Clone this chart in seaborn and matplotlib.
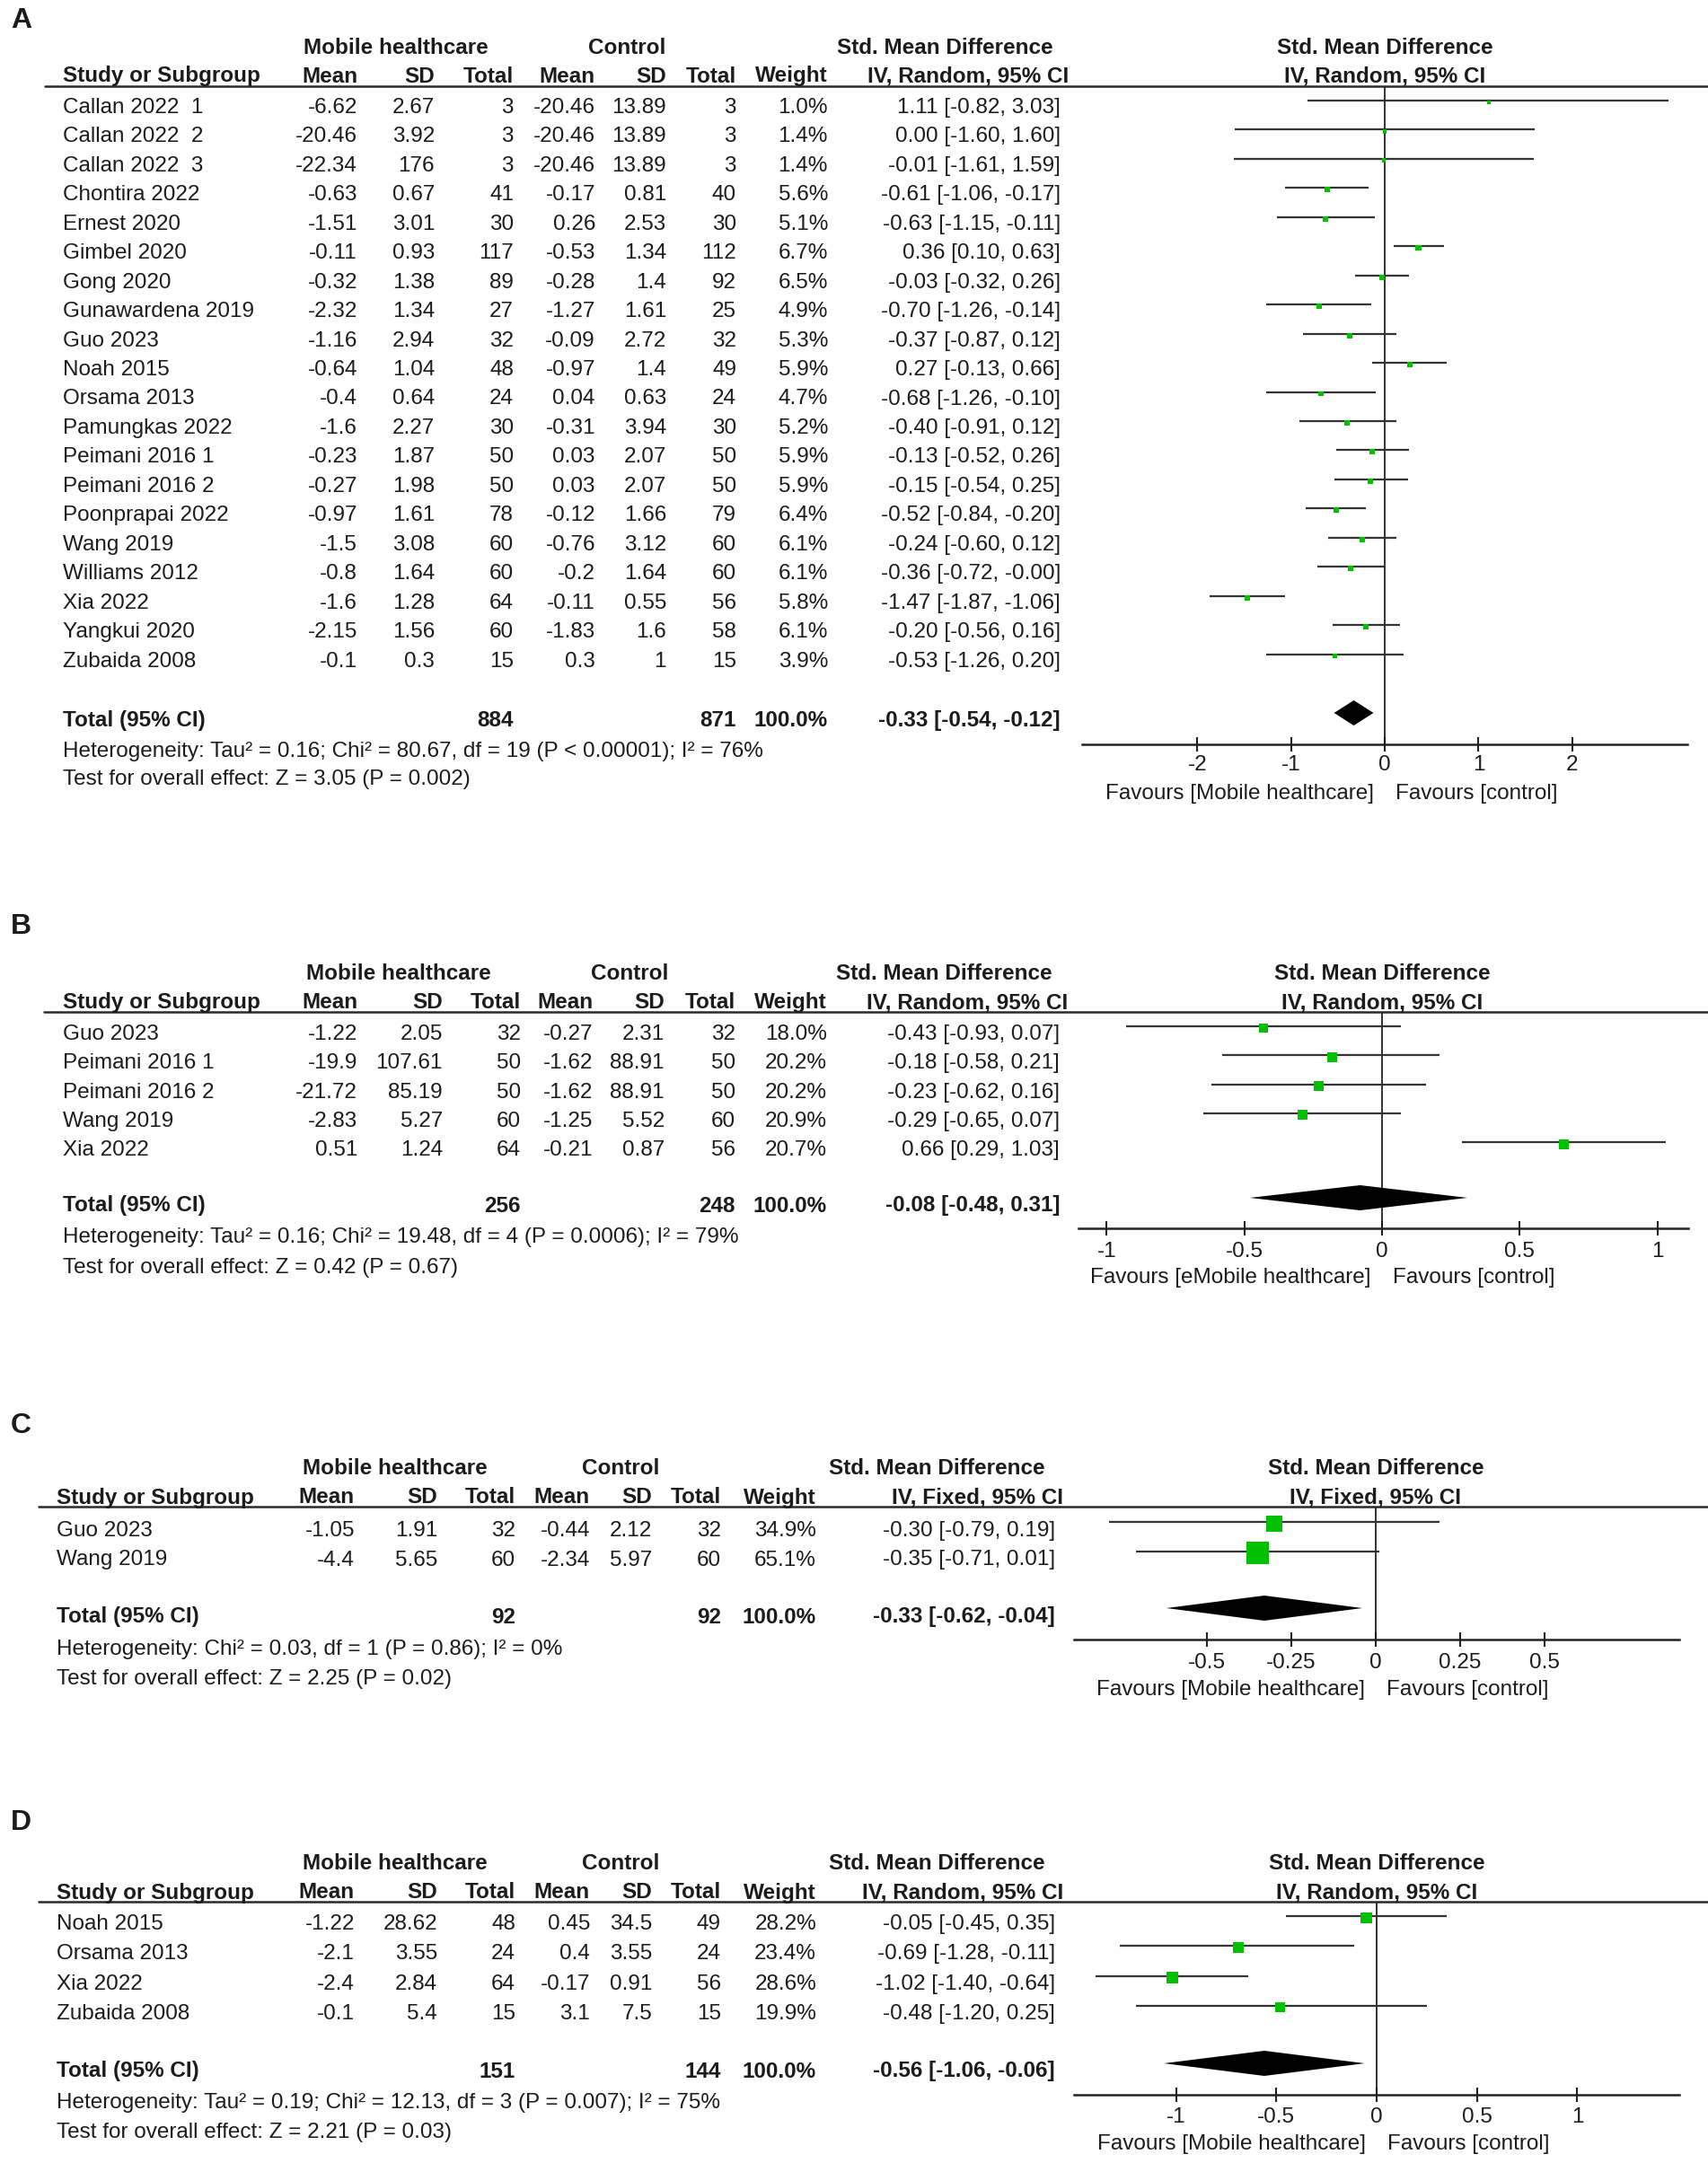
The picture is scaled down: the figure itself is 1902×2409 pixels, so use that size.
import numpy as np
import pandas as pd
import seaborn as sns
import matplotlib.pyplot as plt
from matplotlib.lines import Line2D

# ---------------- panel A : all studies ----------------
a_studies = ["Callan 2022  1", "Callan 2022  2", "Callan 2022  3", "Chontira 2022", "Ernest 2020",
             "Gimbel 2020", "Gong 2020", "Gunawardena 2019", "Guo 2023", "Noah 2015", "Orsama 2013",
             "Pamungkas 2022", "Peimani 2016 1", "Peimani 2016 2", "Poonprapai 2022", "Wang 2019",
             "Williams 2012", "Xia 2022", "Yangkui 2020", "Zubaida 2008"]
a_mean_e = [-6.62, -20.46, -22.34, -0.63, -1.51, -0.11, -0.32, -2.32, -1.16, -0.64, -0.4, -1.6,
            -0.23, -0.27, -0.97, -1.5, -0.8, -1.6, -2.15, -0.1]
a_sd_e = [2.67, 3.92, 176, 0.67, 3.01, 0.93, 1.38, 1.34, 2.94, 1.04, 0.64, 2.27, 1.87, 1.98, 1.61,
          3.08, 1.64, 1.28, 1.56, 0.3]
a_n_e = [3, 3, 3, 41, 30, 117, 89, 27, 32, 48, 24, 30, 50, 50, 78, 60, 60, 64, 60, 15]
a_mean_c = [-20.46, -20.46, -20.46, -0.17, 0.26, -0.53, -0.28, -1.27, -0.09, -0.97, 0.04, -0.31,
            0.03, 0.03, -0.12, -0.76, -0.2, -0.11, -1.83, 0.3]
a_sd_c = [13.89, 13.89, 13.89, 0.81, 2.53, 1.34, 1.4, 1.61, 2.72, 1.4, 0.63, 3.94, 2.07, 2.07, 1.66,
          3.12, 1.64, 0.55, 1.6, 1]
a_n_c = [3, 3, 3, 40, 30, 112, 92, 25, 32, 49, 24, 30, 50, 50, 79, 60, 60, 56, 58, 15]
a_weight = [1.0, 1.4, 1.4, 5.6, 5.1, 6.7, 6.5, 4.9, 5.3, 5.9, 4.7, 5.2, 5.9, 5.9, 6.4, 6.1, 6.1, 5.8, 6.1, 3.9]
a_smd = [1.11, 0.00, -0.01, -0.61, -0.63, 0.36, -0.03, -0.70, -0.37, 0.27, -0.68, -0.40, -0.13, -0.15,
         -0.52, -0.24, -0.36, -1.47, -0.20, -0.53]
a_lo = [-0.82, -1.60, -1.61, -1.06, -1.15, 0.10, -0.32, -1.26, -0.87, -0.13, -1.26, -0.91, -0.52, -0.54,
        -0.84, -0.60, -0.72, -1.87, -0.56, -1.26]
a_hi = [3.03, 1.60, 1.59, -0.17, -0.11, 0.63, 0.26, -0.14, 0.12, 0.66, -0.10, 0.12, 0.26, 0.25,
        -0.20, 0.12, -0.00, -1.06, 0.16, 0.20]
a_totals = [884, 871]
a_pooled = [-0.33, -0.54, -0.12]
a_het = "Heterogeneity: Tau² = 0.16; Chi² = 80.67, df = 19 (P < 0.00001); I² = 76%"
a_test = "Test for overall effect: Z = 3.05 (P = 0.002)"
a_ticks = [-2, -1, 0, 1, 2]

# ---------------- panel B ----------------
b_studies = ["Guo 2023", "Peimani 2016 1", "Peimani 2016 2", "Wang 2019", "Xia 2022"]
b_mean_e = [-1.22, -19.9, -21.72, -2.83, 0.51]
b_sd_e = [2.05, 107.61, 85.19, 5.27, 1.24]
b_n_e = [32, 50, 50, 60, 64]
b_mean_c = [-0.27, -1.62, -1.62, -1.25, -0.21]
b_sd_c = [2.31, 88.91, 88.91, 5.52, 0.87]
b_n_c = [32, 50, 50, 60, 56]
b_weight = [18.0, 20.2, 20.2, 20.9, 20.7]
b_smd = [-0.43, -0.18, -0.23, -0.29, 0.66]
b_lo = [-0.93, -0.58, -0.62, -0.65, 0.29]
b_hi = [0.07, 0.21, 0.16, 0.07, 1.03]
b_totals = [256, 248]
b_pooled = [-0.08, -0.48, 0.31]
b_het = "Heterogeneity: Tau² = 0.16; Chi² = 19.48, df = 4 (P = 0.0006); I² = 79%"
b_test = "Test for overall effect: Z = 0.42 (P = 0.67)"
b_ticks = [-1, -0.5, 0, 0.5, 1]

# ---------------- panel C ----------------
c_studies = ["Guo 2023", "Wang 2019"]
c_mean_e = [-1.05, -4.4]
c_sd_e = [1.91, 5.65]
c_n_e = [32, 60]
c_mean_c = [-0.44, -2.34]
c_sd_c = [2.12, 5.97]
c_n_c = [32, 60]
c_weight = [34.9, 65.1]
c_smd = [-0.30, -0.35]
c_lo = [-0.79, -0.71]
c_hi = [0.19, 0.01]
c_totals = [92, 92]
c_pooled = [-0.33, -0.62, -0.04]
c_het = "Heterogeneity: Chi² = 0.03, df = 1 (P = 0.86); I² = 0%"
c_test = "Test for overall effect: Z = 2.25 (P = 0.02)"
c_ticks = [-0.5, -0.25, 0, 0.25, 0.5]

# ---------------- panel D ----------------
d_studies = ["Noah 2015", "Orsama 2013", "Xia 2022", "Zubaida 2008"]
d_mean_e = [-1.22, -2.1, -2.4, -0.1]
d_sd_e = [28.62, 3.55, 2.84, 5.4]
d_n_e = [48, 24, 64, 15]
d_mean_c = [0.45, 0.4, -0.17, 3.1]
d_sd_c = [34.5, 3.55, 0.91, 7.5]
d_n_c = [49, 24, 56, 15]
d_weight = [28.2, 23.4, 28.6, 19.9]
d_smd = [-0.05, -0.69, -1.02, -0.48]
d_lo = [-0.45, -1.28, -1.40, -1.20]
d_hi = [0.35, -0.11, -0.64, 0.25]
d_totals = [151, 144]
d_pooled = [-0.56, -1.06, -0.06]
d_het = "Heterogeneity: Tau² = 0.19; Chi² = 12.13, df = 3 (P = 0.007); I² = 75%"
d_test = "Test for overall effect: Z = 2.21 (P = 0.03)"
d_ticks = [-1, -0.5, 0, 0.5, 1]

W, H = 1902, 2409
sns.set_style("white")
plt.rcParams['font.family'] = ['Liberation Sans', 'DejaVu Sans']
FS = 17.5
INK = '#1c1c1c'
GREEN = '#00c000'

fig = plt.figure(figsize=(W / 100, H / 100), dpi=100)


def fx(px):
    return px / W


def fy(py):
    return 1 - py / H


def txt(x, y, s, ha='left', bold=False, size=FS):
    fig.text(fx(x), fy(y), s, ha=ha, va='center', fontsize=size,
             fontweight='bold' if bold else 'normal', color=INK)


def num(v):
    return '{:g}'.format(v)


def ci(m, lo, hi):
    return '{:.2f} [{:.2f}, {:.2f}]'.format(m, lo, hi)


def draw_panel(label, df, totals, pooled, het, test, method, ticks, fav_left, L):
    txt(12, L['label'], label, bold=True, size=23)
    txt(L['mobile'], L['hdr1'], 'Mobile healthcare', ha='center', bold=True)
    txt(L['control'], L['hdr1'], 'Control', ha='center', bold=True)
    txt(L['smd'], L['hdr1'], 'Std. Mean Difference', ha='center', bold=True)
    txt(L['x0'], L['hdr1'], 'Std. Mean Difference', ha='center', bold=True)

    cols = L['cols']
    txt(L['left'], L['hdr2'], 'Study or Subgroup', bold=True)
    for name, x in zip(['Mean', 'SD', 'Total', 'Mean', 'SD', 'Total', 'Weight'], cols[:7]):
        txt(x, L['hdr2'], name, ha='right', bold=True)
    txt(cols[7] + 9, L['hdr2'], method, ha='right', bold=True)
    txt(L['x0'], L['hdr2'], method, ha='center', bold=True)
    fig.add_artist(Line2D([fx(L['hl0']), 1], [fy(L['line'])] * 2, color='#2a2a2a', lw=1.8))

    # table rows
    for i, r in enumerate(df.itertuples()):
        y = L['text0'] + i * L['dy']
        txt(L['left'], y, r.study)
        vals = [num(r.mean_e), num(r.sd_e), num(r.n_e), num(r.mean_c), num(r.sd_c), num(r.n_c),
                '{:.1f}%'.format(r.weight), ci(r.smd, r.lo, r.hi)]
        for v, x in zip(vals, cols):
            txt(x, y, v, ha='right')

    yt = L['total']
    txt(L['left'], yt, 'Total (95% CI)', bold=True)
    txt(cols[2], yt, str(totals[0]), ha='right', bold=True)
    txt(cols[5], yt, str(totals[1]), ha='right', bold=True)
    txt(cols[6], yt, '100.0%', ha='right', bold=True)
    txt(cols[7], yt, ci(*pooled), ha='right', bold=True)
    txt(L['left'], L['het'], het)
    txt(L['left'], L['test'], test)

    # forest plot
    x_a, x_b = L['ax']
    ax = fig.add_axes([fx(x_a), fy(L['axis']), (x_b - x_a) / W, (L['axis'] - L['line']) / H])
    ax.set_facecolor('none')
    plot_df = df.assign(ypos=[L['text0'] + L['off'] + i * L['dy'] for i in range(len(df))])
    ax.hlines(plot_df['ypos'], plot_df['lo'], plot_df['hi'], color='#333333', lw=1.6, zorder=2)
    sns.scatterplot(data=plot_df, x='smd', y=plot_df['ypos'] + 2, size='weight',
                    sizes=(L['smin'], L['smax']), size_norm=(0, plot_df['weight'].max()),
                    marker='s', color=GREEN, edgecolor='none', linewidth=0, legend=False,
                    ax=ax, zorder=3)
    yd = L['total'] + L['off']
    hh = 14
    m, lo, hi = pooled
    ax.fill([lo, m, hi, m], [yd, yd - hh, yd, yd + hh], color='black', lw=0, zorder=3)
    ax.axvline(0, color='#111111', lw=1.2, zorder=1)
    ax.set_xlim((x_a - L['x0']) / L['unit'], (x_b - L['x0']) / L['unit'])
    ax.set_ylim(L['axis'], L['line'])
    for s in ['top', 'left', 'right']:
        ax.spines[s].set_visible(False)
    ax.spines['bottom'].set_color('#222222')
    ax.spines['bottom'].set_linewidth(1.8)
    ax.set_yticks([])
    ax.set_xticks(ticks)
    ax.set_xticklabels([num(t) for t in ticks])
    ax.tick_params(axis='x', direction='inout', length=12, width=1.5, color='#222222',
                   labelsize=FS, labelcolor=INK, pad=L['pad'], bottom=True)
    ax.set_xlabel('')
    ax.set_ylabel('')
    txt(L['x0'] - 12, L['fav'], fav_left, ha='right')
    txt(L['x0'] + 12, L['fav'], 'Favours [control]')


def frame(studies, mean_e, sd_e, n_e, mean_c, sd_c, n_c, weight, smd, lo, hi):
    return pd.DataFrame({'study': studies, 'mean_e': mean_e, 'sd_e': sd_e, 'n_e': n_e,
                         'mean_c': mean_c, 'sd_c': sd_c, 'n_c': n_c, 'weight': weight,
                         'smd': smd, 'lo': lo, 'hi': hi})


lay_a = dict(label=23, hdr1=53, hdr2=85, line=96, text0=120, dy=32.45, off=-8, total=802,
             het=837, test=868, axis=829, fav=884, x0=1542, unit=104.4, ax=(1205, 1879),
             hl0=50, left=70, cols=[398, 484, 572, 663, 742, 820, 922, 1181],
             mobile=441, control=698, smd=1052, smin=10, smax=20, pad=3)
lay_b = dict(label=1032, hdr1=1085, hdr2=1117, line=1127, text0=1152, dy=32.3, off=-9, total=1343,
             het=1378, test=1412, axis=1368, fav=1423, x0=1539, unit=306.6, ax=(1201, 1880),
             hl0=49, left=70, cols=[398, 493, 580, 660, 740, 819, 921, 1180],
             mobile=444, control=701, smd=1051, smin=0, smax=64, pad=5)
lay_c = dict(label=1588, hdr1=1635, hdr2=1668, line=1678, text0=1705, dy=32.5, off=-10, total=1801,
             het=1837, test=1870, axis=1826, fav=1882, x0=1532, unit=376, ax=(1196, 1870),
             hl0=43, left=63, cols=[395, 487, 574, 657, 726, 803, 909, 1175],
             mobile=440, control=691, smd=1043, smin=0, smax=324, pad=5)
lay_d = dict(label=2030, hdr1=2075, hdr2=2108, line=2118, text0=2143, dy=33.3, off=-9, total=2307,
             het=2342, test=2375, axis=2333, fav=2388, x0=1533, unit=223.4, ax=(1196, 1870),
             hl0=43, left=63, cols=[395, 487, 574, 657, 726, 803, 909, 1175],
             mobile=440, control=691, smd=1043, smin=0, smax=88, pad=4)

draw_panel('A', frame(a_studies, a_mean_e, a_sd_e, a_n_e, a_mean_c, a_sd_c, a_n_c, a_weight, a_smd, a_lo, a_hi),
           a_totals, a_pooled, a_het, a_test, 'IV, Random, 95% CI', a_ticks,
           'Favours [Mobile healthcare]', lay_a)
draw_panel('B', frame(b_studies, b_mean_e, b_sd_e, b_n_e, b_mean_c, b_sd_c, b_n_c, b_weight, b_smd, b_lo, b_hi),
           b_totals, b_pooled, b_het, b_test, 'IV, Random, 95% CI', b_ticks,
           'Favours [eMobile healthcare]', lay_b)
draw_panel('C', frame(c_studies, c_mean_e, c_sd_e, c_n_e, c_mean_c, c_sd_c, c_n_c, c_weight, c_smd, c_lo, c_hi),
           c_totals, c_pooled, c_het, c_test, 'IV, Fixed, 95% CI', c_ticks,
           'Favours [Mobile healthcare]', lay_c)
draw_panel('D', frame(d_studies, d_mean_e, d_sd_e, d_n_e, d_mean_c, d_sd_c, d_n_c, d_weight, d_smd, d_lo, d_hi),
           d_totals, d_pooled, d_het, d_test, 'IV, Random, 95% CI', d_ticks,
           'Favours [Mobile healthcare]', lay_d)

fig.savefig('out.png', dpi=100, facecolor='white')
